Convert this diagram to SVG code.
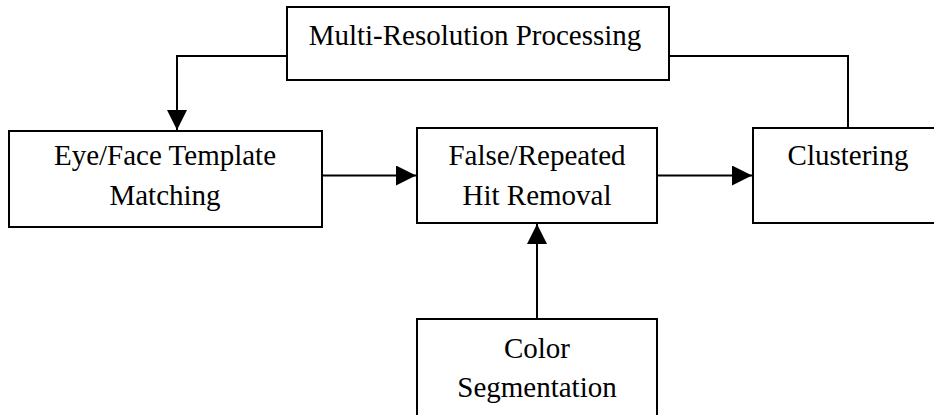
<svg xmlns="http://www.w3.org/2000/svg" width="934" height="415" viewBox="0 0 934 415">
<style>
.box{fill:#fff;stroke:#000;stroke-width:2}
.t{font-family:"Liberation Serif","Times New Roman",serif;font-size:29px;fill:#000;text-anchor:middle}
.c{fill:none;stroke:#000;stroke-width:2}
</style>
<defs>
<marker id="ah" markerWidth="20" markerHeight="20" viewBox="0 0 20 20" refX="20" refY="10" orient="auto" markerUnits="userSpaceOnUse">
<path d="M0,0 L20,10 L0,20 Z" fill="#000"/>
</marker>
</defs>
<rect width="934" height="415" fill="#fff"/>
<g id="connectors">
<path class="c" d="M287,56 H177 V130" marker-end="url(#ah)"/>
<path class="c" d="M669,56 H848 V128"/>
<path class="c" d="M322,175.5 H416" marker-end="url(#ah)"/>
<path class="c" d="M657,175.5 H752" marker-end="url(#ah)"/>
<path class="c" d="M537,319 V224" marker-end="url(#ah)"/>
</g>
<g id="multires">
<rect class="box" x="287" y="7" width="382" height="73"/>
<text class="t" x="475" y="45">Multi-Resolution Processing</text>
</g>
<g id="eyeface">
<rect class="box" x="9" y="131" width="313" height="96"/>
<text class="t" x="165" y="165">Eye/Face Template</text>
<text class="t" x="165" y="205">Matching</text>
</g>
<g id="falsehit">
<rect class="box" x="417" y="128" width="240" height="95"/>
<text class="t" x="537" y="165">False/Repeated</text>
<text class="t" x="537" y="205">Hit Removal</text>
</g>
<g id="clustering">
<rect class="box" x="753" y="128" width="190" height="95"/>
<text class="t" x="848" y="165">Clustering</text>
</g>
<g id="color">
<rect class="box" x="417" y="319" width="240" height="110"/>
<text class="t" x="537" y="358">Color</text>
<text class="t" x="537" y="397">Segmentation</text>
</g>
</svg>
